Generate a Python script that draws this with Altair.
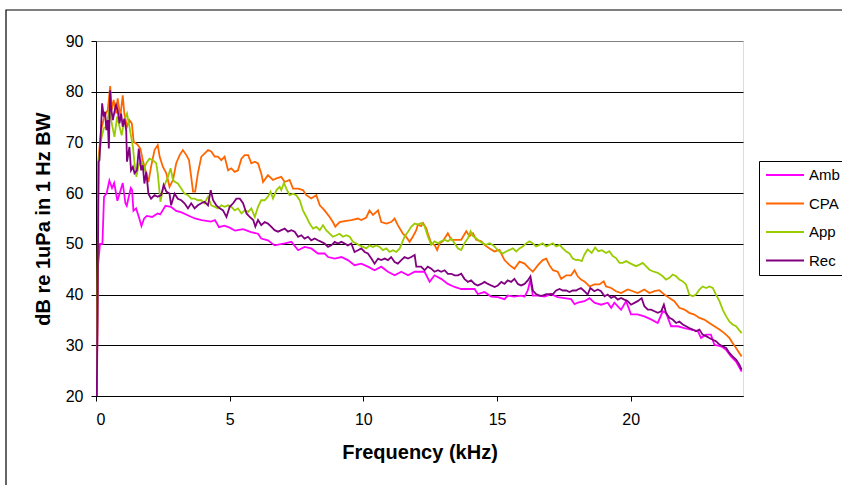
import altair as alt
import pandas as pd

# ---------------- data ----------------
series_names = ["Amb", "CPA", "App", "Rec"]
series_colors = ["#FF00FF", "#FF6600", "#99CC00", "#800080"]
x_ticks = [0, 5, 10, 15, 20]
y_ticks = [20, 30, 40, 50, 60, 70, 80, 90]

amb_f = [0.03, 0.08, 0.15, 0.24, 0.3, 0.4, 0.5, 0.6, 0.68, 0.8, 0.9, 1.0, 1.1, 1.15, 1.3, 1.35, 1.4, 1.5,
         1.62, 1.7, 1.8, 1.9, 2.1, 2.3, 2.4, 2.6, 2.8, 3.0, 3.2, 3.45, 3.7, 3.95, 4.3, 4.45, 4.6, 4.8, 5.0,
         5.2, 5.5, 5.8, 6.06, 6.18, 6.43, 6.68, 7.06, 7.31, 7.56, 7.8, 8.05, 8.3, 8.55, 8.68, 8.93, 9.18,
         9.42, 9.67, 9.92, 10.17, 10.42, 10.67, 10.92, 11.17, 11.42, 11.67, 11.92, 12.04, 12.29, 12.48,
         12.66, 12.91, 13.16, 13.41, 13.66, 13.91, 14.16, 14.28, 14.53, 14.78, 15.03, 15.28, 15.4, 15.65,
         15.9, 16.03, 16.15, 16.25, 16.34, 16.53, 16.78, 17.02, 17.27, 17.52, 17.77, 17.9, 18.02, 18.27,
         18.46, 18.64, 18.89, 19.14, 19.27, 19.39, 19.64, 19.83, 20.01, 20.26, 20.51, 20.76, 21.01, 21.2,
         21.32, 21.51, 21.76, 22.01, 22.26, 22.51, 22.63, 22.82, 23.0, 23.13, 23.38, 23.57, 23.75, 23.94,
         24.15]
amb_db = [20, 46, 50, 50, 59.3, 60, 62.5, 61, 62, 58.5, 60.2, 62, 58, 57.5, 61, 60.6, 56.5, 57,
          55, 53.5, 55, 55.5, 55.3, 56, 55.8, 57.5, 57.3, 56.5, 56.2, 55.6, 55, 54.7, 54.4, 54.7, 53.3, 53.6, 53.2,
          52.6, 52.9, 52.3, 52.0, 51.05, 50.7, 49.7, 50.1, 50.4, 48.75, 49.4, 49.1, 48.1, 48.1, 47.4, 47.1, 47.4,
          46.8, 45.8, 46.1, 45.5, 44.8, 45.5, 44.5, 43.8, 44.5, 43.8, 44.5, 44.5, 44.5, 42.5,
          43.8, 43.1, 42.1, 41.5, 41.1, 41.1, 41.1, 40.1, 40.5, 39.6, 39.5, 39.1, 39.8, 39.6,
          39.8, 39.6, 40.8, 43.0, 39.8, 39.8, 39.6, 40.1, 39.5, 39.3, 39.1, 38.1, 38.4, 38.7,
          39.3, 38.4, 38.0, 38.4, 37.4, 38.4, 37.0, 38.7, 36.1, 36.1, 35.7, 35.1, 34.4, 36.7,
          36.4, 33.75, 33.75, 33.4, 33.1, 32.8, 31.45, 32.1, 32.1, 30.1, 29.8, 29.1, 27.8, 26.8,
          24.8]

cpa_f = [0.03, 0.09, 0.19, 0.31, 0.44, 0.53, 0.59, 0.66, 0.75, 0.81, 0.91, 1.0, 1.06, 1.16, 1.25, 1.34,
         1.41, 1.5, 1.56, 1.66, 1.75, 1.88, 1.96, 2.06, 2.19, 2.31, 2.38, 2.5, 2.63, 2.75, 2.88, 3.0, 3.13,
         3.25, 3.38, 3.48, 3.56, 3.63, 3.71, 3.81, 3.94, 4.06, 4.19, 4.31, 4.44, 4.56, 4.69, 4.81, 4.94,
         5.06, 5.19, 5.31, 5.44, 5.56, 5.69, 5.81, 5.94, 6.06, 6.18, 6.25, 6.43, 6.62, 6.75, 6.93, 7.06,
         7.24, 7.37, 7.56, 7.74, 7.87, 8.05, 8.24, 8.37, 8.55, 8.74, 8.86, 8.95, 9.11, 9.3, 9.55, 9.8, 9.92,
         10.11, 10.23, 10.36, 10.55, 10.67, 10.86, 11.04, 11.17, 11.29, 11.48, 11.6, 11.73, 11.85, 11.98,
         12.04, 12.16, 12.23, 12.35, 12.41, 12.54, 12.66, 12.76, 12.85, 12.97, 13.16, 13.29, 13.47, 13.66,
         13.85, 13.97, 14.1, 14.22, 14.41, 14.53, 14.72, 14.9, 15.09, 15.28, 15.47, 15.65, 15.84, 16.03,
         16.21, 16.34, 16.53, 16.71, 16.84, 16.96, 17.09, 17.27, 17.4, 17.59, 17.77, 17.9, 18.02, 18.14,
         18.27, 18.46, 18.64, 18.83, 18.99, 19.08, 19.27, 19.45, 19.64, 19.89, 20.08, 20.26, 20.51, 20.7,
         20.89, 21.07, 21.26, 21.45, 21.63, 21.82, 22.01, 22.19, 22.38, 22.57, 22.75, 22.94, 23.13, 23.32,
         23.5, 23.69, 23.81, 23.94, 24.06, 24.15]
cpa_db = [20, 66.5, 72.4, 75.1, 76.4, 81.1, 76.4, 78.4, 75.7, 78.7, 75.1, 79.3, 75.7, 73.1, 74.4, 73.75,
          70.1, 69.8, 69.5, 68.8, 66.5, 63.9, 62.2, 65.2, 68.5, 69.5, 67.2, 65.2, 63.9, 61.25, 62.6, 65.9, 67.5,
          68.5, 67.5, 66.5, 63.2, 60.3, 60.3, 63.9, 67.2, 67.8, 68.5, 68.2, 67.2, 67.2, 66.5, 67.2, 64.5,
          64.9, 64.2, 64.5, 66.8, 67.5, 67.5, 65.9, 66.2, 65.86, 63.9, 62.2, 63.55, 62.6, 62.9, 63.2, 62.2,
          62.6, 60.9, 60.9, 60.6, 59.6, 58.95, 59.6, 57.6, 56.6, 55.3, 54.3, 53.4, 54.3, 54.5, 54.7, 55.0, 54.7,
          55.2, 56.6, 55.7, 56.6, 54.3, 54.0, 54.3, 55.0, 53.7, 52.0, 51.4, 50.4, 51.4, 52.7,
          53.8, 53.5, 54.1, 53.1, 52.1, 50.1, 49.8, 48.8, 50.1, 50.5, 52.1, 50.8, 50.8, 50.8,
          52.5, 51.5, 52.1, 50.8, 50.5, 49.8, 49.1, 48.5, 48.8, 46.8, 45.8, 45.1, 46.5, 46.1,
          45.1, 44.5, 45.8, 46.8, 47.1, 45.8, 44.8, 44.5, 43.1, 43.8, 43.8, 44.8, 43.6, 42.96,
          42.6, 41.6, 42.0, 42.0, 42.6, 41.6, 41.3, 40.66, 40.3, 41.0, 40.66, 40.3, 41.0, 40.3,
          40.66, 40.86, 40.0, 39.3, 38.7, 37.4, 37.04, 36.4, 36.05, 35.4, 35.07, 34.4, 33.75, 33.1,
          32.4, 31.45, 30.46, 29.47, 28.5, 27.8]

app_f = [0.03, 0.09, 0.19, 0.29, 0.38, 0.5, 0.59, 0.69, 0.79, 0.88, 0.96, 1.06, 1.16, 1.25, 1.38, 1.44,
         1.51, 1.59, 1.69, 1.79, 1.88, 2.0, 2.13, 2.25, 2.31, 2.41, 2.5, 2.59, 2.69, 2.79, 2.88, 2.96, 3.06,
         3.19, 3.31, 3.44, 3.56, 3.69, 3.81, 3.94, 4.06, 4.19, 4.31, 4.44, 4.56, 4.69, 4.81, 4.94, 5.06,
         5.19, 5.31, 5.44, 5.56, 5.69, 5.81, 5.94, 6.06, 6.18, 6.31, 6.43, 6.53, 6.62, 6.75, 6.87, 6.93,
         7.03, 7.12, 7.24, 7.37, 7.49, 7.62, 7.74, 7.87, 7.99, 8.12, 8.24, 8.37, 8.49, 8.61, 8.74, 8.86,
         8.99, 9.11, 9.24, 9.36, 9.49, 9.61, 9.74, 9.86, 9.99, 10.11, 10.23, 10.36, 10.48, 10.61, 10.73,
         10.86, 10.98, 11.11, 11.23, 11.36, 11.44, 11.54, 11.67, 11.79, 11.92, 12.04, 12.16, 12.29, 12.41,
         12.54, 12.66, 12.79, 12.91, 13.04, 13.16, 13.29, 13.41, 13.54, 13.66, 13.78, 13.91, 14.01, 14.1,
         14.22, 14.35, 14.47, 14.59, 14.72, 14.84, 14.97, 15.09, 15.22, 15.34, 15.47, 15.59, 15.72, 15.84,
         15.97, 16.09, 16.21, 16.34, 16.46, 16.59, 16.71, 16.84, 16.96, 17.09, 17.21, 17.34, 17.46, 17.59,
         17.71, 17.83, 17.96, 18.02, 18.17, 18.27, 18.39, 18.54, 18.67, 18.79, 18.92, 19.08, 19.2, 19.33,
         19.45, 19.58, 19.7, 19.83, 19.95, 20.08, 20.2, 20.33, 20.45, 20.57, 20.7, 20.82, 21.01, 21.2,
         21.32, 21.45, 21.57, 21.7, 21.82, 21.95, 22.07, 22.19, 22.32, 22.44, 22.57, 22.69, 22.82, 22.94,
         23.07, 23.19, 23.32, 23.44, 23.57, 23.69, 23.81, 23.94, 24.04, 24.15]
app_db = [20, 65.9, 70.5, 72.8, 73.1, 76.4, 73.75, 71.1, 75.1, 73.1, 71.4, 74.4, 75.7, 73.1, 69.1, 65.9,
          63.2, 65.5, 66.5, 64.5, 65.9, 66.8, 66.5, 65.9, 63.9, 58.3, 60.6, 61.9, 63.2, 64.9, 62.6, 62.2, 61.9,
          60.9, 59.9, 59.6, 58.9, 58.9, 58.6, 58.6, 58.0, 59.3, 57.6, 57.3, 57.0, 57.6, 57.3, 57.6, 57.3,
          56.6, 57.0, 56.0, 56.6, 56.3, 57.0, 55.3, 57.3, 58.6, 58.6, 59.3, 60.3, 58.95, 60.6, 61.25, 60.6,
          62.0, 60.9, 59.6, 59.9, 59.6, 58.6, 56.6, 55.3, 54.0, 53.0, 53.35, 52.7, 53.7, 52.7, 52.0, 51.4,
          51.7, 52.0, 51.4, 51.7, 51.4, 50.4, 50.07, 49.7, 49.4, 49.1, 49.7, 49.4, 49.7, 49.4, 48.75,
          49.1, 48.4, 48.75, 48.4, 49.1, 50.1, 51.4, 52.4, 53.35, 54.0, 53.8, 54.1, 53.5, 51.5,
          49.8, 50.5, 50.1, 50.5, 50.8, 50.5, 51.1, 50.1, 49.1, 48.8, 50.1, 51.1, 52.5, 51.5,
          51.1, 50.5, 50.1, 49.8, 50.1, 49.8, 49.1, 48.5, 48.1, 48.5, 48.8, 49.1, 48.5, 49.1,
          49.5, 50.1, 50.5, 50.1, 49.5, 49.8, 50.1, 49.5, 49.8, 50.1, 49.5, 49.8, 49.1, 48.5,
          48.1, 47.1, 46.8, 46.9, 46.6, 47.9, 48.9, 48.2, 49.3, 48.55, 48.75, 48.2, 48.55, 47.6,
          47.2, 46.25, 46.25, 46.6, 46.25, 45.9, 45.6, 45.9, 46.25, 45.6, 44.9, 44.6, 44.3, 43.6,
          42.96, 43.3, 43.95, 43.6, 42.96, 42.6, 42.0, 40.0, 39.67, 40.0, 41.0, 41.6, 41.3, 41.6,
          41.3, 40.0, 38.7, 37.04, 35.7, 34.7, 34.1, 33.75, 33.1, 32.4]

rec_f = [0.03, 0.1, 0.13, 0.23, 0.29, 0.34, 0.39, 0.44, 0.48, 0.53, 0.56, 0.63, 0.69, 0.75, 0.81, 0.88,
         0.94, 1.0, 1.06, 1.13, 1.16, 1.25, 1.31, 1.38, 1.44, 1.53, 1.6, 1.69, 1.75, 1.81, 1.88, 1.96, 2.06,
         2.19, 2.31, 2.44, 2.53, 2.63, 2.75, 2.81, 2.94, 3.06, 3.19, 3.31, 3.44, 3.56, 3.69, 3.81, 3.94,
         4.06, 4.19, 4.29, 4.38, 4.5, 4.63, 4.75, 4.88, 5.0, 5.13, 5.25, 5.38, 5.5, 5.63, 5.75, 5.88, 5.96,
         6.06, 6.18, 6.31, 6.43, 6.56, 6.68, 6.81, 6.93, 7.06, 7.18, 7.31, 7.43, 7.56, 7.68, 7.8, 7.93,
         8.05, 8.18, 8.3, 8.43, 8.55, 8.68, 8.8, 8.93, 9.05, 9.18, 9.3, 9.42, 9.55, 9.67, 9.8, 9.92, 10.05,
         10.17, 10.3, 10.42, 10.55, 10.67, 10.8, 10.92, 11.04, 11.17, 11.29, 11.42, 11.54, 11.67, 11.79,
         11.92, 11.98, 12.1, 12.16, 12.29, 12.41, 12.54, 12.66, 12.79, 12.91, 13.04, 13.16, 13.29, 13.41,
         13.54, 13.66, 13.78, 13.91, 14.03, 14.16, 14.28, 14.41, 14.53, 14.66, 14.78, 14.91, 15.03, 15.16,
         15.28, 15.4, 15.53, 15.65, 15.78, 15.9, 16.03, 16.15, 16.25, 16.34, 16.46, 16.59, 16.71, 16.84,
         16.96, 17.09, 17.21, 17.34, 17.46, 17.59, 17.71, 17.83, 17.96, 18.02, 18.14, 18.27, 18.39, 18.49,
         18.64, 18.77, 18.89, 19.02, 19.14, 19.27, 19.39, 19.52, 19.64, 19.76, 19.89, 20.01, 20.14, 20.26,
         20.41, 20.51, 20.64, 20.76, 20.89, 21.01, 21.14, 21.24, 21.32, 21.45, 21.57, 21.7, 21.82, 21.95,
         22.07, 22.19, 22.32, 22.44, 22.57, 22.69, 22.82, 22.94, 23.07, 23.19, 23.32, 23.44, 23.57, 23.69,
         23.81, 23.94, 24.06, 24.15]
rec_db = [20, 66.2, 66.5, 77.7, 75.1, 76.05, 72.4, 74.4, 68.8, 80.3, 77.0, 74.4, 76.05, 77.4, 76.4, 73.75,
          75.7, 73.1, 74.7, 72.4, 66.2, 69.1, 64.5, 65.2, 63.9, 64.5, 68.8, 64.5, 65.5, 61.9, 64.2, 59.9, 58.9,
          59.6, 59.3, 59.6, 61.6, 60.3, 59.9, 57.6, 59.9, 58.9, 58.6, 58.0, 57.0, 58.0, 57.0, 57.6, 58.0,
          58.3, 57.6, 60.6, 58.6, 57.6, 57.0, 56.6, 55.3, 57.3, 58.0, 58.9, 58.9, 58.0, 56.0, 55.3, 54.7, 53.4,
          54.7, 53.7, 54.3, 54.0, 53.35, 52.7, 52.4, 52.7, 53.0, 52.4, 52.7, 52.4, 51.4, 51.7, 51.05, 51.4,
          50.7, 51.05, 50.7, 50.4, 50.07, 49.4, 49.7, 50.4, 50.07, 50.4, 50.07, 49.7, 50.07, 48.4, 48.75, 49.1, 48.4,
          48.1, 47.1, 46.1, 47.1, 46.8, 47.1, 46.8, 47.4, 46.4, 46.1, 46.8, 47.4, 47.1, 47.4,
          47.8, 45.5, 45.5, 45.5, 44.8, 45.5, 45.1, 44.5, 44.8, 44.5, 44.8, 44.1, 44.1, 43.8,
          43.8, 44.1, 43.1, 42.5, 42.8, 42.1, 41.8, 42.1, 42.5, 42.1, 41.8, 41.5, 41.8, 42.5,
          42.1, 42.8, 42.5, 43.1, 42.1, 41.8, 42.1, 42.8, 43.6, 40.8, 40.1, 39.8, 39.8, 40.1,
          40.1, 40.1, 40.8, 41.1, 40.8, 40.8, 40.5, 40.8, 40.8, 41.0, 41.3, 40.66, 40.0, 41.3,
          40.66, 41.0, 40.66, 39.67, 40.0, 39.34, 39.67, 39.0, 39.34, 39.0, 38.7, 38.0, 38.36, 38.7,
          39.3, 37.7, 37.04, 37.04, 36.7, 36.4, 36.7, 38.0, 36.4, 35.4, 35.07, 34.4, 34.7, 34.1,
          33.75, 33.4, 33.1, 32.76, 33.1, 32.1, 31.8, 31.45, 31.1, 30.8, 30.13, 29.8, 29.47, 28.5,
          27.8, 27.2, 26.2, 25.2]

# ---------------- table built from the arrays ----------------
rows = []
for name, fs, ds in [("Amb", amb_f, amb_db), ("CPA", cpa_f, cpa_db),
                     ("App", app_f, app_db), ("Rec", rec_f, rec_db)]:
    for i, (f, d) in enumerate(zip(fs, ds)):
        rows.append({"series": name, "freq": f, "db": d, "idx": i})
df = pd.DataFrame(rows)

FONT = "Liberation Sans"
W, H = 647, 355

lines = alt.Chart(df).mark_line(strokeWidth=1.8, clip=True).encode(
    x=alt.X("freq:Q",
            scale=alt.Scale(domain=[0, 24.2], nice=False, zero=False),
            axis=alt.Axis(values=x_ticks, title="Frequency (kHz)", grid=False,
                          domainColor="black", tickColor="black", tickSize=5,
                          labelFontSize=16, labelFont=FONT, labelColor="black", labelPadding=10,
                          titleFontSize=20, titleFont=FONT, titleFontWeight="bold", titleColor="black",
                          titleX=W / 2, titleY=56, titleBaseline="middle", titleAnchor="middle")),
    y=alt.Y("db:Q",
            scale=alt.Scale(domain=[20, 90], nice=False, zero=False),
            axis=alt.Axis(values=y_ticks, title="dB re 1uPa in 1 Hz BW", grid=True,
                          gridColor={"condition": {"test": "datum.value == 90", "value": "#808080"},
                                     "value": "black"},
                          gridOpacity=1, gridWidth=1,
                          domainColor="black", tickColor="black", tickSize=5,
                          labelFontSize=16, labelFont=FONT, labelColor="black", labelPadding=8,
                          titleFontSize=20, titleFont=FONT, titleFontWeight="bold", titleColor="black",
                          titleX=-53, titleY=H / 2, titleBaseline="middle", titleAnchor="middle",
                          titleAngle=270)),
    color=alt.Color("series:N",
                    scale=alt.Scale(domain=series_names, range=series_colors),
                    legend=alt.Legend(title=None, orient="none", legendX=663, legendY=120,
                                      symbolType="stroke", symbolSize=1444, symbolStrokeWidth=2,
                                      clipHeight=16, rowPadding=12.5, padding=6, labelOffset=4,
                                      labelFontSize=15, labelFont=FONT, labelColor="black",
                                      strokeColor="black", fillColor="white", cornerRadius=0)),
    order=alt.Order("idx:Q"),
)

frame = alt.Chart(alt.Data(values=[{}])).mark_rect(
    fill=None, stroke="black", strokeWidth=1.2, clip=False
).encode(
    x=alt.value(-90), x2=alt.value(950), y=alt.value(-31), y2=alt.value(700)
)

chart = alt.layer(lines, frame).properties(
    width=W, height=H,
    autosize=alt.AutoSizeParams(type="none"),
    padding={"left": 96, "top": 41, "right": 99, "bottom": 89},
    background="white",
).configure_view(
    stroke="#808080", strokeWidth=1
).configure(font=FONT)

chart.save("out.html", embed_options={"renderer": "svg", "actions": False})
